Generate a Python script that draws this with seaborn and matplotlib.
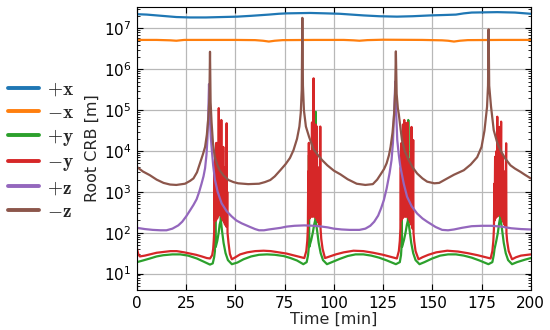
import matplotlib
matplotlib.use("Agg")
import numpy as np
import pandas as pd
import matplotlib.pyplot as plt
from matplotlib.font_manager import FontProperties
from matplotlib.lines import Line2D
from matplotlib.ticker import LogLocator, NullFormatter
import seaborn as sns

# (time [min], log10 of root CRB [m])
plus_x = [(0, 7.35), (5, 7.34), (10, 7.32), (15, 7.30), (20, 7.28), (27, 7.27), (35, 7.27),
          (43, 7.28), (51, 7.29), (58, 7.31), (67, 7.34), (72, 7.36), (76, 7.37), (88, 7.38),
          (96, 7.37), (103, 7.36), (109, 7.34), (115, 7.32), (123, 7.30), (132, 7.29),
          (140, 7.30), (149, 7.32), (156, 7.33), (162, 7.34), (166, 7.37), (170, 7.39),
          (183, 7.40), (192, 7.39), (200, 7.36)]

minus_x = [(0, 6.72), (10, 6.72), (17, 6.71), (20, 6.70), (24, 6.72), (35, 6.72), (50, 6.72),
           (60, 6.715), (64, 6.70), (67, 6.68), (70, 6.70), (74, 6.715), (90, 6.72), (105, 6.72),
           (110, 6.71), (113, 6.70), (117, 6.715), (125, 6.725), (145, 6.72), (155, 6.71),
           (158, 6.70), (161, 6.68), (164, 6.70), (168, 6.715), (185, 6.72), (200, 6.72)]

plus_y = [(0, 1.28), (3, 1.32), (6.6, 1.37), (10, 1.42), (13.4, 1.45), (18, 1.47), (22, 1.47),
          (26, 1.44), (30.4, 1.37), (34, 1.29), (37.1, 1.22), (38.5, 1.25), (39.2, 1.40),
          (39.6, 1.55), (39.8, 3.86), (40.0, 1.65), (40.8, 1.80), (41.5, 2.00), (42.0, 2.20),
          (42.5, 2.30), (42.6, 4.50), (42.75, 2.25), (43.2, 2.05), (44.0, 1.75), (45.0, 1.50),
          (46.2, 1.33), (48.2, 1.23), (51, 1.27), (54.1, 1.35), (58, 1.42), (62, 1.46),
          (66, 1.47), (70, 1.46), (74.5, 1.43), (78, 1.38), (81.3, 1.32), (84.5, 1.23),
          (86.2, 1.28), (86.9, 1.45), (87.2, 1.60), (87.35, 3.90), (87.5, 1.65), (88.5, 1.82),
          (89.3, 2.00), (90.0, 2.20), (90.6, 2.32), (90.8, 4.96), (90.95, 2.25), (91.5, 2.05),
          (92.3, 1.75), (93.3, 1.50), (94.5, 1.33), (96.5, 1.23), (99, 1.28), (103, 1.36),
          (107, 1.43), (111, 1.47), (115, 1.47), (119, 1.44), (123, 1.39), (127, 1.32),
          (131.5, 1.23), (133.5, 1.28), (134.1, 1.45), (134.3, 1.60), (134.45, 3.40),
          (134.6, 1.65), (135.6, 1.82), (136.4, 2.00), (137.1, 2.20), (137.6, 2.30),
          (137.8, 4.76), (137.95, 2.25), (138.5, 2.05), (139.3, 1.75), (140.3, 1.50),
          (141.5, 1.33), (143.5, 1.23), (146, 1.28), (150, 1.37), (154, 1.44), (158, 1.47),
          (162, 1.47), (166, 1.44), (170, 1.39), (174, 1.32), (178.5, 1.23), (180.5, 1.28),
          (181.2, 1.45), (181.6, 1.60), (182.5, 1.80), (183.3, 2.00), (184.0, 2.25),
          (184.5, 2.38), (184.65, 4.45), (184.8, 2.30), (185.5, 2.05), (186.3, 1.75),
          (187.3, 1.50), (188.5, 1.33), (190.5, 1.23), (193, 1.28), (197, 1.34), (200, 1.38)]

minus_y = [(0, 1.61), (0.8, 1.46), (1.5, 1.42), (4, 1.44), (6.6, 1.47), (10, 1.51), (13.4, 1.53),
           (17, 1.55), (20.2, 1.55), (24, 1.52), (27, 1.49), (30, 1.46), (32.9, 1.42),
           (35.5, 1.38), (37.1, 1.37), (38.2, 1.45), (38.7, 1.60), (39.0, 1.80), (39.2, 2.00),
           (39.4, 3.50), (39.55, 2.30), (39.7, 3.85), (39.85, 2.35), (40.0, 3.90), (40.15, 2.30),
           (40.3, 4.20), (40.45, 2.40), (40.6, 3.70), (40.75, 2.35), (40.9, 4.00), (41.05, 2.40),
           (41.2, 3.50), (41.35, 2.45), (41.55, 5.05), (41.7, 2.45), (41.85, 4.00), (42.0, 2.45),
           (42.2, 4.50), (42.35, 2.45), (42.5, 3.60), (42.65, 2.40), (42.85, 4.76), (43.0, 2.40),
           (43.15, 3.80), (43.3, 2.35), (43.5, 3.40), (43.65, 2.30), (43.85, 4.10), (44.0, 2.30),
           (44.2, 3.50), (44.35, 2.25), (44.55, 3.10), (44.7, 2.20), (44.85, 3.60), (45.0, 2.20),
           (45.2, 3.00), (45.35, 2.15), (45.55, 4.68), (45.7, 2.15), (45.85, 3.00), (46.0, 2.00),
           (46.5, 1.75), (47.2, 1.48), (48.2, 1.35), (50, 1.40), (52.4, 1.47), (56, 1.52),
           (60, 1.55), (64.3, 1.56), (68, 1.55), (72, 1.52), (76, 1.49), (80, 1.44), (83, 1.40),
           (85.0, 1.38), (86.0, 1.55), (86.5, 1.80), (86.8, 2.10),
           (87.0, 3.50), (87.15, 2.40), (87.3, 4.20), (87.45, 2.40), (87.6, 3.60), (87.75, 2.35),
           (87.9, 3.90), (88.05, 2.40), (88.2, 3.50), (88.35, 2.40), (88.5, 4.00), (88.65, 2.40),
           (88.9, 4.70), (89.05, 2.40), (89.2, 3.60), (89.35, 2.40), (89.7, 5.78), (89.85, 2.40),
           (90.0, 3.80), (90.15, 2.40), (90.35, 3.50), (90.5, 2.40), (90.7, 4.65), (90.85, 2.40),
           (91.0, 3.30), (91.15, 2.35), (91.4, 4.60), (91.55, 2.30), (91.7, 3.20), (91.85, 2.30),
           (92.0, 3.60), (92.15, 2.25), (92.4, 3.00), (92.55, 2.20), (92.8, 3.30), (92.95, 2.20),
           (93.1, 4.60), (93.25, 2.10), (93.6, 1.85), (94.3, 1.60), (95.5, 1.38), (98, 1.42),
           (101, 1.47), (105, 1.52), (110, 1.56), (115, 1.55), (120, 1.51), (125, 1.46),
           (129, 1.41), (132.0, 1.37), (133.0, 1.55), (133.5, 1.80), (133.8, 2.10),
           (134.0, 3.60), (134.15, 2.30), (134.4, 4.20), (134.55, 2.35), (134.7, 3.50),
           (134.85, 2.35), (135.1, 4.65), (135.25, 2.40), (135.4, 3.70), (135.55, 2.40),
           (135.75, 4.76), (135.9, 2.40), (136.1, 3.80), (136.25, 2.40), (136.45, 4.68),
           (136.6, 2.40), (136.8, 3.50), (136.95, 2.40), (137.15, 4.20), (137.3, 2.40),
           (137.5, 4.70), (137.65, 2.40), (137.9, 3.40), (138.05, 2.35), (138.3, 3.80),
           (138.45, 2.30), (138.7, 3.30), (138.85, 2.25), (139.1, 3.60), (139.25, 2.20),
           (139.45, 4.59), (139.6, 2.20), (139.85, 3.20), (140.0, 2.10), (140.3, 4.27),
           (140.45, 2.00), (140.8, 1.80), (141.5, 1.55), (143.0, 1.35), (145, 1.40), (148, 1.46),
           (152, 1.52), (157.6, 1.56), (163, 1.54), (168, 1.50), (173, 1.45), (177, 1.40),
           (179.6, 1.37), (180.5, 1.55), (181.0, 1.80), (181.3, 2.10), (181.5, 3.20),
           (181.65, 2.30), (181.9, 3.86), (182.05, 2.35), (182.3, 3.50), (182.45, 2.40),
           (182.6, 4.00), (182.75, 2.40), (183.0, 4.84), (183.15, 2.40), (183.35, 3.60),
           (183.5, 2.45), (183.7, 4.20), (183.85, 2.45), (184.1, 4.59), (184.25, 2.45),
           (184.5, 3.50), (184.65, 2.45), (184.95, 4.72), (185.1, 2.40), (185.3, 3.40),
           (185.45, 2.35), (185.7, 3.90), (185.85, 2.30), (186.1, 3.30), (186.25, 2.25),
           (186.5, 3.50), (186.65, 2.20), (186.9, 3.10), (187.05, 2.15), (187.5, 4.19),
           (187.65, 2.00), (188.0, 1.80), (188.8, 1.55), (190.5, 1.35), (192.5, 1.40),
           (195, 1.44), (200, 1.47)]

plus_z = [(0, 2.12), (4, 2.09), (8, 2.07), (12, 2.06), (15, 2.06), (18, 2.10), (21, 2.18),
          (23, 2.27), (25, 2.40), (27, 2.55), (28.7, 2.68), (30.3, 2.82), (31.6, 3.00),
          (32.8, 3.20), (33.8, 3.38), (34.6, 3.58), (35.3, 3.90), (35.8, 4.30), (36.2, 4.85),
          (36.6, 5.64), (37.0, 4.85), (37.5, 4.35), (37.9, 4.10), (38.7, 3.65), (39.6, 3.30),
          (41, 3.00), (43, 2.72), (45.5, 2.53), (48.1, 2.40), (50.5, 2.30), (53.2, 2.23),
          (57.5, 2.14), (60, 2.09), (62, 2.06), (64.5, 2.06), (67, 2.08), (70, 2.10), (73, 2.12),
          (76, 2.15), (80, 2.17), (85, 2.18), (90, 2.17), (94, 2.15), (97, 2.13), (100, 2.10),
          (104, 2.08), (108, 2.07), (113, 2.07), (116, 2.10), (118.5, 2.17), (120.5, 2.27),
          (122.5, 2.42), (124, 2.60), (125.4, 2.80), (126.8, 3.08), (128.3, 3.46), (129.3, 3.78),
          (130.0, 4.20), (130.5, 4.80), (130.9, 5.30), (131.2, 5.70), (131.6, 5.00),
          (132.2, 4.27), (133, 3.90), (133.8, 3.61), (135.5, 3.20), (137.2, 2.88), (139.5, 2.65),
          (142.3, 2.47), (145, 2.35), (147.4, 2.27), (151.7, 2.14), (155, 2.07), (158, 2.06),
          (161, 2.08), (165, 2.12), (170, 2.16), (175, 2.17), (180, 2.17), (185, 2.15),
          (190, 2.11), (195, 2.09), (200, 2.08)]

minus_z = [(0, 3.61), (3, 3.50), (6.5, 3.41), (10, 3.30), (13.5, 3.22), (16.8, 3.18), (20, 3.17),
           (24.4, 3.20), (27, 3.27), (28.7, 3.33), (30.5, 3.48), (32, 3.70), (33.5, 3.92),
           (34.6, 4.10), (35.5, 4.40), (36.3, 4.84), (36.8, 5.30), (37.1, 6.43), (37.4, 5.20),
           (37.9, 4.70), (38.6, 4.20), (39.5, 3.86), (40.7, 3.68), (42, 3.53), (44, 3.40),
           (46.5, 3.29), (49, 3.24), (51.4, 3.21), (56.5, 3.19), (62, 3.20), (65, 3.24),
           (67.7, 3.29), (70, 3.38), (72.8, 3.53), (75.5, 3.68), (77.7, 3.83), (79.5, 4.02),
           (81.3, 4.30), (82.5, 4.60), (83.2, 4.94), (83.7, 5.50), (84.0, 7.26), (84.3, 5.60),
           (84.8, 5.00), (85.8, 4.60), (87.4, 4.35), (89.6, 4.05), (91.6, 3.92), (94, 3.78),
           (96.7, 3.65), (100, 3.52), (103.3, 3.43), (107, 3.31), (111.6, 3.20), (116, 3.17),
           (119.8, 3.19), (122, 3.30), (123.5, 3.41), (125.5, 3.56), (126.8, 3.70), (128, 3.90),
           (128.8, 4.10), (129.8, 4.45), (130.6, 4.90), (131.1, 5.40), (131.5, 6.44),
           (131.9, 5.40), (132.5, 5.05), (133, 4.90), (134, 4.50), (134.6, 4.27), (136, 4.00),
           (138, 3.78), (140, 3.60), (142.3, 3.45), (145, 3.33), (147.4, 3.25), (151, 3.21),
           (153.5, 3.22), (157.6, 3.33), (161, 3.42), (166, 3.53), (169.5, 3.67), (172.8, 3.85),
           (175, 4.10), (176.5, 4.50), (177.8, 5.08), (178.3, 5.60), (178.6, 6.98),
           (178.9, 5.60), (179.8, 5.10), (181.2, 4.51), (183, 4.20), (184.6, 4.02), (187, 3.82),
           (189.7, 3.65), (192, 3.57), (194.8, 3.49), (197, 3.42), (200, 3.33)]

labels = [r"$+\mathbf{x}$", r"$-\mathbf{x}$", r"$+\mathbf{y}$",
          r"$-\mathbf{y}$", r"$+\mathbf{z}$", r"$-\mathbf{z}$"]
series = [plus_x, minus_x, plus_y, minus_y, plus_z, minus_z]
colors = sns.color_palette("tab10", 6)

rows = []
for label, pts in zip(labels, series):
    for t, lv in pts:
        rows.append({"time": t, "crb": 10 ** lv, "dir": label})
df = pd.DataFrame(rows)

sns.set_style("ticks", {"xtick.direction": "in", "ytick.direction": "in"})

fig = plt.figure(figsize=(5.5, 3.3), dpi=100)
ax = fig.add_axes([0.249, 0.121, 0.716, 0.858])

sns.lineplot(data=df, x="time", y="crb", hue="dir", hue_order=labels,
             palette=colors, estimator=None, sort=False, lw=1.6, ax=ax, legend=False)

ax.set_yscale("log")
ax.set_xlim(0, 200)
ax.set_ylim(3.95, 3.37e7)
ax.set_xticks(np.arange(0, 201, 25))
ax.yaxis.set_major_locator(LogLocator(base=10, numticks=20))
ax.yaxis.set_minor_locator(LogLocator(base=10, subs=np.arange(2, 10), numticks=100))
ax.yaxis.set_minor_formatter(NullFormatter())
ax.tick_params(which="both", direction="in", top=True, right=True, labelsize=11, colors="black")
ax.tick_params(which="major", length=4, width=0.8, pad=4)
ax.tick_params(which="minor", length=2, width=0.6)
ax.grid(True, which="major", color="#b8b8b8", lw=0.9)
for s in ax.spines.values():
    s.set_color("black")
    s.set_linewidth(0.8)

ax.set_xlabel("Time [min]", fontsize=11.5, labelpad=1)
ax.set_ylabel("Root CRB [m]", fontsize=11.5, labelpad=3)

handles = [Line2D([], [], color=c, lw=2.8) for c in colors]
fig.legend(handles, labels, loc="center left", bbox_to_anchor=(0.008, 0.545),
           frameon=False, prop=FontProperties(size=14, math_fontfamily="cm"),
           handlelength=1.6, handletextpad=0.4, labelspacing=0.24, borderpad=0.2,
           borderaxespad=0.0)

fig.savefig("out.png", dpi=100)
